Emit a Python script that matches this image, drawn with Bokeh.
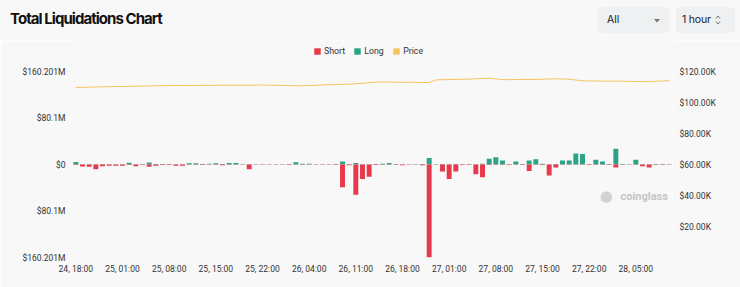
from bokeh.plotting import figure
from bokeh.models import (ColumnDataSource, Range1d, LinearAxis, FixedTicker,
                          Legend, LegendItem, Label, Div)
from bokeh.layouts import column
from bokeh.embed import file_html
from bokeh.resources import INLINE

# ---------------- data ----------------
title_text = "Total Liquidations Chart"
x_tick_labels = ["24, 18:00", "25, 01:00", "25, 08:00", "25, 15:00", "25, 22:00",
                 "26, 04:00", "26, 11:00", "26, 18:00", "27, 01:00", "27, 08:00",
                 "27, 15:00", "27, 22:00", "28, 05:00"]
tick_step = 7  # one label every 7 hourly bars

# long liquidations ($M), plotted upward
long_m = [4.5, 0.5, 0.3, 0.3, 0.5, 0.5, 0.4, 0.5, 3.0, 0.5,
          0.3, 3.5, 1.0, 1.0, 0.4, 0.4, 0.4, 2.0, 2.0, 1.0,
          1.5, 2.0, 0.8, 2.5, 2.5, 0.3, 0.5, 0.3, 0.3, 0.6,
          0.3, 0.3, 0.4, 4.0, 1.5, 1.5, 0.3, 0.3, 0.3, 0.4,
          5.0, 0.5, 2.5, 0.5, 0.5, 1.0, 1.5, 2.5, 0.4, 0.3,
          0.3, 0.3, 0.8, 11.0, 0.3, 1.0, 0.5, 1.0, 0.4, 0.4,
          0.5, 1.5, 10.0, 12.5, 7.0, 0.4, 5.0, 0.4, 7.0, 9.0,
          1.5, 0.5, 1.0, 7.0, 7.0, 19.0, 18.0, 0.5, 8.0, 5.0,
          0.5, 27.0, 1.0, 0.3, 8.0, 0.5, 0.5, 0.5, 1.0, 0.3]
# short liquidations ($M), plotted downward
short_m = [1.0, 3.5, 4.0, 8.0, 3.0, 2.0, 2.0, 2.0, 1.0, 3.0,
           1.0, 4.0, 2.0, 1.0, 1.0, 2.0, 2.0, 0.5, 0.5, 0.8,
           0.5, 0.5, 1.5, 0.5, 0.5, 0.5, 8.0, 0.5, 0.4, 0.3,
           0.5, 0.5, 1.0, 0.5, 0.5, 0.4, 0.5, 0.5, 0.5, 1.0,
           39.0, 1.5, 52.0, 25.0, 21.0, 1.0, 0.5, 0.5, 1.0, 1.5,
           0.5, 0.5, 1.5, 160.201, 0.5, 12.0, 25.0, 12.0, 1.0, 1.0,
           17.0, 22.0, 1.0, 0.5, 0.5, 1.0, 0.5, 1.0, 11.0, 0.5,
           1.0, 19.0, 5.0, 0.5, 0.5, 0.5, 0.5, 1.0, 0.5, 0.5,
           1.0, 5.0, 0.5, 0.5, 0.5, 3.0, 5.0, 1.0, 0.5, 0.5]
# price ($K)
price_k = [109.7, 109.8, 109.9, 110.0, 110.1, 110.2, 110.3, 110.3, 110.4, 110.5,
           110.6, 110.7, 110.8, 110.8, 110.9, 110.9, 111.0, 110.9, 111.0, 111.1,
           111.0, 111.1, 111.2, 111.1, 111.2, 111.2, 111.1, 111.2, 111.3, 111.2,
           111.1, 111.0, 110.9, 110.8, 110.8, 110.9, 111.1, 111.3, 111.5, 111.6,
           111.7, 111.8, 112.1, 112.4, 112.8, 113.1, 113.3, 113.2, 113.1, 113.0,
           113.1, 113.0, 112.9, 112.9, 114.6, 114.7, 114.8, 114.9, 115.0, 115.1,
           115.3, 115.5, 115.7, 115.2, 114.8, 114.7, 114.8, 114.9, 114.8, 114.9,
           115.0, 115.2, 115.3, 115.2, 115.0, 114.5, 114.0, 113.9, 113.9, 113.8,
           113.8, 113.7, 113.8, 113.6, 113.5, 113.5, 113.5, 113.7, 113.9, 114.0]

left_ticks_m = [-160.201, -80.1, 0, 80.1, 160.201]
left_tick_labels = ["$160.201M", "$80.1M", "$0", "$80.1M", "$160.201M"]
right_ticks_k = [20, 40, 60, 80, 100, 120]
right_tick_labels = ["$20.00K", "$40.00K", "$60.00K", "$80.00K", "$100.00K", "$120.00K"]
series_names = ["Short", "Long", "Price"]
period_options = ["All", "1 hour"]
watermark = "coinglass"

# ---------------- style ----------------
BG = "#f8f8f8"
RED = "#e8384b"
GREEN = "#2ba385"
ORANGE = "#f4c25e"
AXFONT = "Roboto"
TXT = "#333333"

n = len(long_m)
src = ColumnDataSource(dict(
    x=list(range(n)),
    long=[v * 1e6 for v in long_m],
    short=[-v * 1e6 for v in short_m],
    price=[v * 1e3 for v in price_k],
))

left_ticks = [int(round(v * 1e6)) for v in left_ticks_m]
right_ticks = [int(v * 1000) for v in right_ticks_k]
x_ticks = [i * tick_step for i in range(len(x_tick_labels))]
ymax = max(left_ticks)
pmax = max(right_ticks)

# ---------------- header (title + selectors) ----------------
header_html = f"""
<div style="position:relative;width:740px;height:40px;background:{BG};font-family:Inter,sans-serif;overflow:hidden;">
  <div style="position:absolute;left:10px;top:10px;line-height:18px;font-size:15px;font-weight:700;letter-spacing:-0.95px;color:#111;white-space:nowrap;">{title_text}</div>
  <div style="position:absolute;left:598px;top:7px;width:71px;height:26px;border-radius:5px;background:#eef0f2;"></div>
  <div style="position:absolute;left:676px;top:7px;width:59px;height:26px;border-radius:5px;background:#eef0f2;"></div>
  <div style="position:absolute;left:607px;top:12px;line-height:15px;font-size:10.5px;color:#222;white-space:nowrap;">{period_options[0]}</div>
  <svg style="position:absolute;left:654px;top:19px" width="6" height="4"><polygon points="0,0 6,0 3,3.5" fill="#777"/></svg>
  <div style="position:absolute;left:682px;top:12px;line-height:15px;font-size:10.5px;color:#222;white-space:nowrap;letter-spacing:-0.2px;">{period_options[1]}</div>
  <svg style="position:absolute;left:715px;top:14px" width="6" height="12"><polyline points="1,4.5 3,2 5,4.5" fill="none" stroke="#777" stroke-width="1"/><polyline points="1,7.5 3,10 5,7.5" fill="none" stroke="#777" stroke-width="1"/></svg>
</div>"""
header = Div(text=header_html, width=740, height=40, margin=0)

# ---------------- main chart ----------------
# frame spans canvas y 40..257; ticks sit at the reference positions (0 at y=164)
p = figure(width=740, height=247, x_range=Range1d(-0.5, n - 0.5),
           y_range=Range1d(-ymax, ymax * 124 / 93),
           output_backend="svg", toolbar_location=None,
           min_border_left=72, min_border_right=68, min_border_top=0, min_border_bottom=30,
           background_fill_color=BG, border_fill_color=BG, outline_line_color=None)
p.grid.visible = False
p.extra_y_ranges = {"price": Range1d(0, pmax * 217 / 186)}

r_long = p.vbar(x="x", top="long", bottom=0, width=0.74, source=src,
                fill_color=GREEN, line_color=None)
r_short = p.vbar(x="x", top=0, bottom="short", width=0.74, source=src,
                 fill_color=RED, line_color=None)
p.line(x="x", y="price", source=src, y_range_name="price", line_color=ORANGE, line_width=1)
# zero-height key renderer so the Price legend entry shows a square swatch
r_price_key = p.vbar(x="x", top=0, bottom=0, width=0.74, source=src,
                     fill_color=ORANGE, line_color=None)

def style_axis(ax, standoff):
    ax.axis_line_color = None
    ax.major_tick_line_color = None
    ax.minor_tick_line_color = None
    ax.major_tick_out = 0
    ax.major_tick_in = 0
    ax.minor_tick_out = 0
    ax.major_label_text_font = AXFONT
    ax.major_label_text_font_size = "8.5px"
    ax.major_label_text_color = TXT
    ax.major_label_standoff = standoff

p.yaxis.ticker = FixedTicker(ticks=left_ticks)
p.yaxis.major_label_overrides = dict(zip(left_ticks, left_tick_labels))
style_axis(p.yaxis[0], 7)

p.xaxis.ticker = FixedTicker(ticks=x_ticks)
p.xaxis.major_label_overrides = dict(zip(x_ticks, x_tick_labels))
style_axis(p.xaxis[0], 6)

rax = LinearAxis(y_range_name="price", ticker=FixedTicker(ticks=right_ticks),
                 major_label_overrides=dict(zip(right_ticks, right_tick_labels)))
style_axis(rax, 7)
p.add_layout(rax, "right")

legend = Legend(items=[LegendItem(label=series_names[0], renderers=[r_short]),
                       LegendItem(label=series_names[1], renderers=[r_long]),
                       LegendItem(label=series_names[2], renderers=[r_price_key])],
                orientation="horizontal", location=(241, 200),
                background_fill_alpha=0, border_line_alpha=0, padding=0, margin=0,
                spacing=8, label_standoff=3, glyph_width=8, glyph_height=8,
                label_height=12, label_text_font=AXFONT, label_text_font_size="8.8px",
                label_text_color=TXT)
p.add_layout(legend, "center")

p.add_layout(Label(x=78.6, y=-55e6, text="\u25cf", text_font="DejaVu Sans",
                   text_font_size="15px", text_color="#d2d2d2", text_baseline="middle"))
p.add_layout(Label(x=81.7, y=-55e6, text=watermark, text_font=AXFONT,
                   text_font_style="bold", text_font_size="11px", text_color="#c6c6c6",
                   text_baseline="middle"))

layout = column(header, p, spacing=0)
open("out.html", "w").write(file_html(layout, INLINE))
